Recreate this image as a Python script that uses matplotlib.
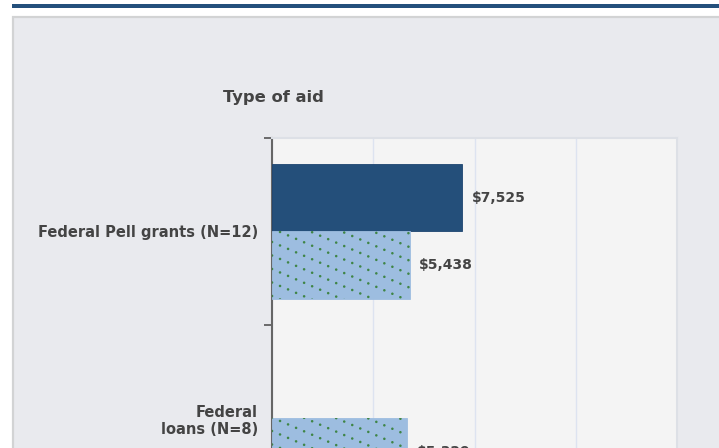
import numpy as np
import matplotlib
matplotlib.use("Agg")
import matplotlib.pyplot as plt
from matplotlib.patches import Rectangle
from matplotlib.lines import Line2D

# ---- data ----
categories = ["Federal Pell grants (N=12)", "Federal\nloans (N=8)"]
series_dark = [7525, np.nan]      # first series (solid dark blue)
series_light = [5438, 5329]       # second series (hatched light blue)
axis_title = "Type of aid"
x_ticks = [0, 4000, 8000, 12000, 16000]

W, H = 719, 448
DPI = 100
fig = plt.figure(figsize=(W / DPI, H / DPI), dpi=DPI, facecolor="white")

def fx(px):
    return px / W

def fy(py):
    return 1 - py / H

# top blue rule
fig.patches.append(Rectangle((fx(12), fy(8)), 1, 4 / H, transform=fig.transFigure,
                             facecolor="#24507c", edgecolor="none", zorder=-10))
# panel
fig.patches.append(Rectangle((fx(13), -0.2), 1.1, fy(17) + 0.2, transform=fig.transFigure,
                             facecolor="#e9eaee", edgecolor="#d2d3d4", linewidth=1.6, zorder=-10))

ax_left, ax_top, ax_w, ax_h = 272, 138, 405, 374
ax = fig.add_axes([fx(ax_left), fy(ax_top + ax_h), ax_w / W, ax_h / H])
ax.set_zorder(1)
ax.set_facecolor("#f4f4f4")

n = len(categories)
y = np.arange(n)
bh = 0.36
dark_bars = ax.barh(y - bh / 2, series_dark, height=bh, color="#244f7a",
                    edgecolor="#1d4470", linewidth=0.6, zorder=3)
light_bars = ax.barh(y + bh / 2, series_light, height=bh, color="#9dbde0",
                     edgecolor="#9dbde0", linewidth=0.6, zorder=3)

ax.set_xlim(x_ticks[0], x_ticks[-1])
ax.set_ylim(n - 0.5, -0.5)

# dotted diagonal hatch clipped to each light bar
slope = 0.43      # px down per px right
spacing = 13.5    # vertical px between lines
xs_px = np.array([0, ax_w])
for bar in light_bars:
    for off in np.arange(-spacing, ax_h + ax_w * slope + spacing, spacing):
        ys_px = off - slope * xs_px  # in axes pixel coords (from bottom)
        ln = Line2D(xs_px / ax_w, ys_px / ax_h, transform=ax.transAxes,
                    color="#3f8546", linewidth=1.9, linestyle=(0, (0.01, 3.3)),
                    dash_capstyle="round", solid_capstyle="round", zorder=4)
        ax.add_line(ln)
        ln.set_clip_path(bar.get_path(), bar.get_transform())

# grid
ax.set_xticks(x_ticks)
ax.tick_params(axis="x", length=0, labelbottom=False)
ax.grid(axis="x", color="#dde3f0", linewidth=1.0, zorder=1)
ax.grid(axis="y", visible=False)
ax.set_axisbelow(True)

# y ticks: separators as major, labels as minor
ax.set_yticks(np.arange(-0.5, n, 1.0))
ax.set_yticklabels([])
ax.tick_params(axis="y", which="major", length=6, width=1.2, color="#555555", direction="out")
ax.set_yticks(y, minor=True)
ax.set_yticklabels(categories, minor=True)
ax.tick_params(axis="y", which="minor", length=0, pad=10)
for lbl in ax.get_yticklabels(minor=True):
    lbl.set_fontsize(10.5)
    lbl.set_fontweight("bold")
    lbl.set_color("#444444")
    lbl.set_multialignment("right")
    lbl.set_linespacing(1.2)

for s in ["top", "right"]:
    ax.spines[s].set_color("#dde0e6")
    ax.spines[s].set_linewidth(1.5)
ax.spines["bottom"].set_visible(False)
ax.spines["left"].set_color("#666666")
ax.spines["left"].set_linewidth(1.5)

# value labels
for bars, vals in ((dark_bars, series_dark), (light_bars, series_light)):
    for bar, v in zip(bars, vals):
        if np.isnan(v):
            continue
        ax.annotate(f"${v:,.0f}", (v, bar.get_y() + bar.get_height() / 2),
                    xytext=(7, 0), textcoords="offset points", ha="left", va="center",
                    fontsize=10, fontweight="bold", color="#444444", zorder=5)

fig.text(fx(273.5), fy(97), axis_title, ha="center", va="center",
         fontsize=11.8, fontweight="bold", color="#444444")

fig.savefig("out.png", dpi=DPI, facecolor="white")
